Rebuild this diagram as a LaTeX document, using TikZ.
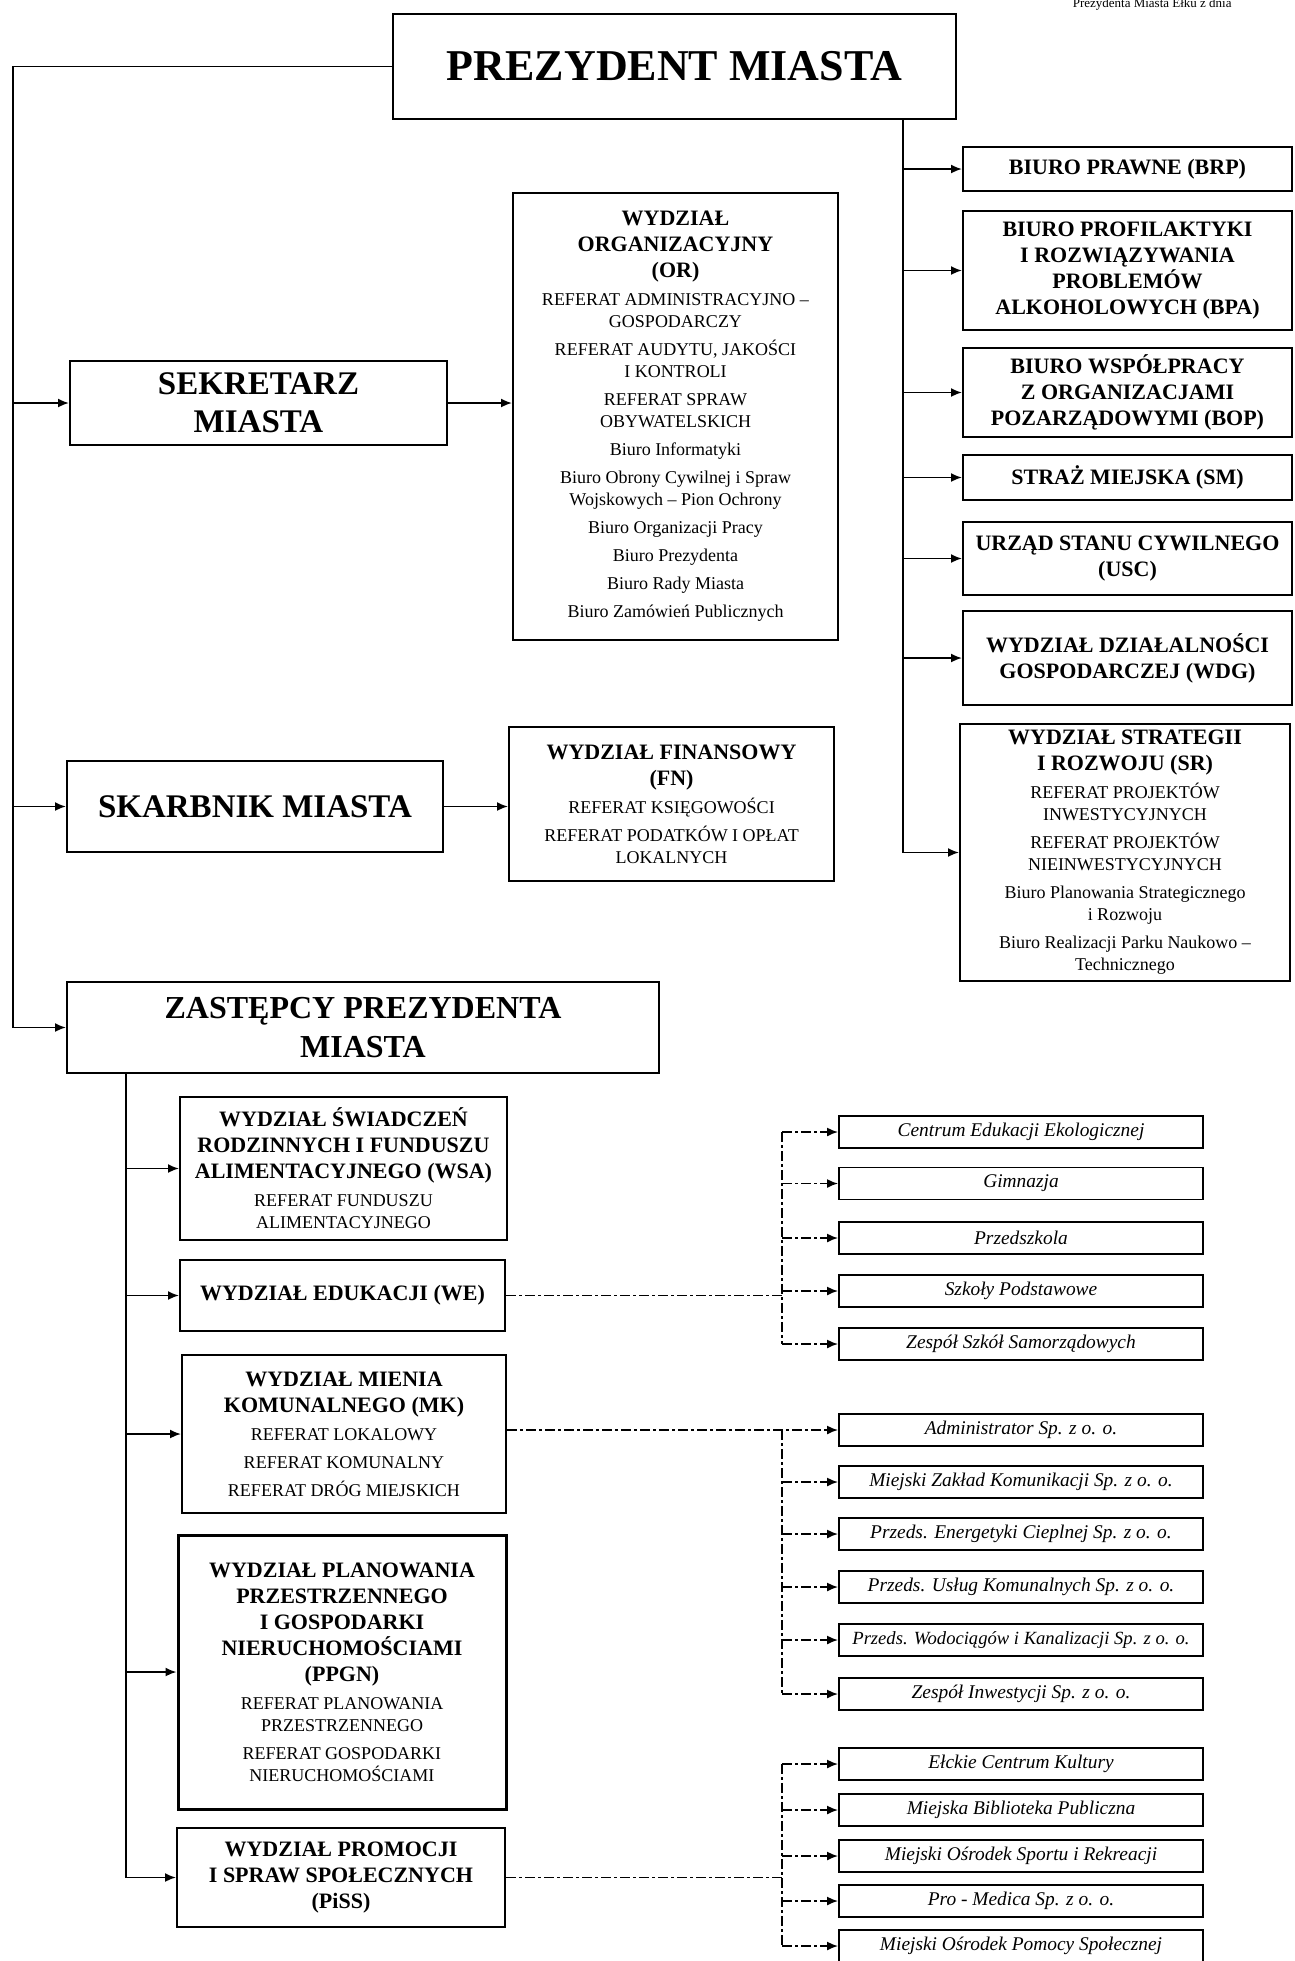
\documentclass[tikz,border=0pt]{standalone}
\usepackage{fontspec}
\setmainfont{Liberation Serif}
\usetikzlibrary{arrows.meta}
\newcommand{\dhead}[1]{{\bfseries\fontsize{11}{13}\selectfont #1\par}}
\newcommand{\dsub}[1]{{\vspace{3pt}\mdseries\fontsize{9}{11}\selectfont #1\par}}
\begin{document}
\begin{tikzpicture}[x=0.5pt,y=-0.5pt,>={Latex[length=5.5pt,width=4.5pt]},
    box/.style={draw,line width=1pt,align=flush center,inner sep=3pt,font=\bfseries\fontsize{11}{13}\selectfont},
    wh/.style 2 args={minimum width=#1*0.5pt,minimum height=#2*0.5pt,text width=#1*0.5pt-6pt},
    unitbox/.style={draw,line width=0.9pt,align=center,inner sep=0pt,minimum width=182pt,minimum height=16pt,font=\itshape\fontsize{9.7}{11}\selectfont},
    link/.style={line width=0.9pt,->},
    dlink/.style={line width=0.9pt,dash pattern=on 5pt off 1.5pt on 1.5pt off 1.5pt}]
    \useasboundingbox (0,0) rectangle (1295,1961);
    \node[anchor=base east,inner sep=0pt,font=\fontsize{6.5}{7}\selectfont] (hdr) at (1232,7) {Prezydenta Miasta Ełku z dnia};
    \node[box,wh={563}{105},font=\bfseries\fontsize{22}{26}\selectfont] (prez) at (674.5,66.5) {PREZYDENT MIASTA};
    % prawa kolumna
    \node[box,wh={329}{44}] (bp) at (1127.5,169) {BIURO PRAWNE (BRP)};
    \node[box,wh={329}{119}] (bpa) at (1127.5,270.5) {BIURO PROFILAKTYKI\\I ROZWIĄZYWANIA\\PROBLEMÓW\\ALKOHOLOWYCH (BPA)};
    \node[box,wh={329}{89}] (bop) at (1127.5,392.5) {BIURO WSPÓŁPRACY\\Z ORGANIZACJAMI\\POZARZĄDOWYMI (BOP)};
    \node[box,wh={329}{45}] (sm) at (1127.5,477.5) {STRAŻ MIEJSKA (SM)};
    \node[box,wh={329}{73}] (usc) at (1127.5,558.5) {URZĄD STANU CYWILNEGO\\(USC)};
    \node[box,wh={329}{94}] (wdg) at (1127.5,658) {WYDZIAŁ DZIAŁALNOŚCI\\GOSPODARCZEJ (WDG)};
    \node[box,wh={330}{245}] (sr) at (1125,852.5) {\dhead{WYDZIAŁ STRATEGII\\I ROZWOJU (SR)}
        \dsub{REFERAT PROJEKTÓW\\INWESTYCYJNYCH}\dsub{REFERAT PROJEKTÓW\\NIEINWESTYCYJNYCH}
        \dsub{Biuro Planowania Strategicznego\\i Rozwoju}\dsub{Biuro Realizacji Parku Naukowo –\\Technicznego}};
    % sekretarz i skarbnik
    \node[box,wh={377}{84},font=\bfseries\fontsize{16.5}{19}\selectfont] (sek) at (258.5,403) {SEKRETARZ\\MIASTA};
    \node[box,wh={325}{447}] (or) at (675.5,416.5) {\dhead{WYDZIAŁ\\ORGANIZACYJNY\\(OR)}
        \dsub{REFERAT ADMINISTRACYJNO –\\GOSPODARCZY}\dsub{REFERAT AUDYTU, JAKOŚCI\\I KONTROLI}
        \dsub{REFERAT SPRAW\\OBYWATELSKICH}\dsub{Biuro Informatyki}
        \dsub{Biuro Obrony Cywilnej i Spraw\\Wojskowych – Pion Ochrony}\dsub{Biuro Organizacji Pracy}
        \dsub{Biuro Prezydenta}\dsub{Biuro Rady Miasta}\dsub{Biuro Zamówień Publicznych}};
    \node[box,wh={376}{91},font=\bfseries\fontsize{16.5}{19}\selectfont] (skarb) at (255,806.5) {SKARBNIK MIASTA};
    \node[box,wh={325}{154}] (fn) at (671.5,804) {\dhead{WYDZIAŁ FINANSOWY\\(FN)}
        \dsub{REFERAT KSIĘGOWOŚCI}\dsub{REFERAT PODATKÓW I OPŁAT\\LOKALNYCH}};
    % zastepcy
    \node[box,wh={592}{91},font=\bfseries\fontsize{16}{19.5}\selectfont] (zast) at (363,1027.5) {ZASTĘPCY PREZYDENTA\\MIASTA};
    \node[box,wh={327}{143}] (wsa) at (343.5,1168.5) {\dhead{WYDZIAŁ ŚWIADCZEŃ\\RODZINNYCH I FUNDUSZU\\ALIMENTACYJNEGO (WSA)}
        \dsub{REFERAT FUNDUSZU\\ALIMENTACYJNEGO}};
    \node[box,wh={325}{71}] (we) at (342.5,1295.5) {WYDZIAŁ EDUKACJI (WE)};
    \node[box,wh={324}{158}] (mk) at (344,1434) {\dhead{WYDZIAŁ MIENIA\\KOMUNALNEGO (MK)}
        \dsub{REFERAT LOKALOWY}\dsub{REFERAT KOMUNALNY}\dsub{REFERAT DRÓG MIEJSKICH}};
    \node[box,wh={328}{274},line width=1.5pt] (ppgn) at (342,1672) {\dhead{WYDZIAŁ PLANOWANIA\\PRZESTRZENNEGO\\I GOSPODARKI\\NIERUCHOMOŚCIAMI\\(PPGN)}
        \dsub{REFERAT PLANOWANIA\\PRZESTRZENNEGO}\dsub{REFERAT GOSPODARKI\\NIERUCHOMOŚCIAMI}};
    \node[box,wh={328}{99}] (piss) at (341,1877.5) {WYDZIAŁ PROMOCJI\\I SPRAW SPOŁECZNYCH\\(PiSS)};
    % jednostki
    \node[unitbox] (cee) at (1021,1132) {Centrum Edukacji Ekologicznej};
    \node[unitbox] (gim) at (1021,1183.5) {Gimnazja};
    \node[unitbox] (prz) at (1021,1238) {Przedszkola};
    \node[unitbox] (sp) at (1021,1291) {Szkoły Podstawowe};
    \node[unitbox] (zss) at (1021,1344) {Zespół Szkół Samorządowych};
    \node[unitbox] (adm) at (1021,1430) {Administrator Sp. z o. o.};
    \node[unitbox] (mzk) at (1021,1482) {Miejski Zakład Komunikacji Sp. z o. o.};
    \node[unitbox] (pec) at (1021,1534) {Przeds. Energetyki Cieplnej Sp. z o. o.};
    \node[unitbox] (puk) at (1021,1587) {Przeds. Usług Komunalnych Sp. z o. o.};
    \node[unitbox,font=\itshape\fontsize{9.3}{11}\selectfont] (pwik) at (1021,1640) {Przeds. Wodociągów i Kanalizacji Sp. z o. o.};
    \node[unitbox] (zi) at (1021,1694) {Zespół Inwestycji Sp. z o. o.};
    \node[unitbox] (eck) at (1021,1764) {Ełckie Centrum Kultury};
    \node[unitbox] (mbp) at (1021,1810) {Miejska Biblioteka Publiczna};
    \node[unitbox] (mosir) at (1021,1856) {Miejski Ośrodek Sportu i Rekreacji};
    \node[unitbox] (pm) at (1021,1901) {Pro - Medica Sp. z o. o.};
    \node[unitbox] (mops) at (1021,1946) {Miejski Ośrodek Pomocy Społecznej};
    % linie
    \coordinate (lv) at (13,0);
    \coordinate (rv) at (903,0);
    \coordinate (zv) at (126,0);
    \coordinate (ev) at (782,0);
    \draw[link] (prez.west) -- (lv |- prez.west) |- (zast.west);
    \foreach \n in {sek,skarb} \draw[link] (lv |- \n.west) -- (\n.west);
    \draw[link] (sek.east) -- (sek.east -| or.west);
    \draw[link] (skarb.east) -- (skarb.east -| fn.west);
    \draw[link] (rv |- prez.south) |- (sr.west);
    \foreach \n in {bp,bpa,bop,sm,usc,wdg} \draw[link] (rv |- \n.west) -- (\n.west);
    \draw[link] (zv |- zast.south) |- (piss.west);
    \foreach \n in {wsa,we,mk,ppgn} \draw[link] (zv |- \n.west) -- (\n.west);
    \draw[dlink] (we.east) -- (ev |- we.east);
    \draw[dlink,line width=1.3pt] (ev |- cee.west) -- (ev |- zss.west);
    \foreach \n in {cee,gim,prz,sp,zss} \draw[dlink,->] (ev |- \n.west) -- (\n.west);
    \draw[dlink,->] (mk.east |- adm.west) -- (adm.west);
    \draw[dlink,line width=1.3pt] (ev |- adm.west) -- (ev |- zi.west);
    \foreach \n in {mzk,pec,puk,pwik,zi} \draw[dlink,->] (ev |- \n.west) -- (\n.west);
    \draw[dlink] (piss.east) -- (ev |- piss.east);
    \draw[dlink,line width=1.3pt] (ev |- eck.west) -- (ev |- mops.west);
    \foreach \n in {eck,mbp,mosir,pm,mops} \draw[dlink,->] (ev |- \n.west) -- (\n.west);
\end{tikzpicture}
\end{document}
